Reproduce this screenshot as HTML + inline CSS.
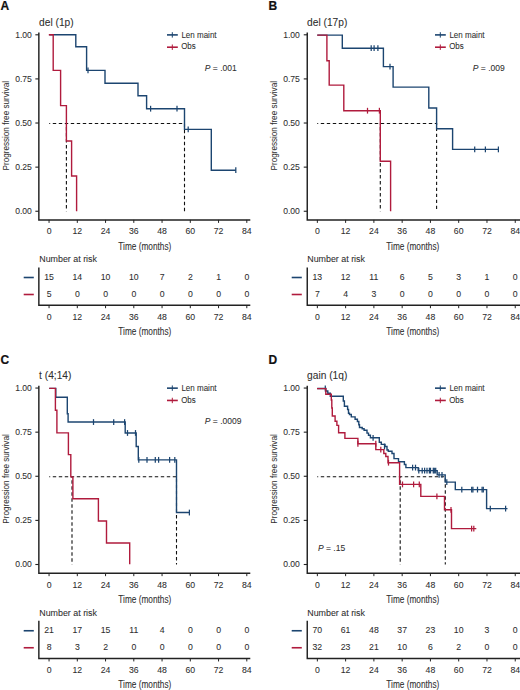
<!DOCTYPE html>
<html><head><meta charset="utf-8"><style>
html,body{margin:0;padding:0;background:#fff;overflow:hidden;width:520px;height:690px;}
svg{display:block;font-family:"Liberation Sans",sans-serif;}
text{stroke:#333;stroke-width:0.07px;}
</style></head><body>
<svg width="520" height="690" viewBox="0 0 520 690">
<rect width="520" height="690" fill="#fff"/>
<g transform="translate(0,0)"><text x="0.6" y="10.4" font-weight="bold" font-size="12" fill="#111" style="stroke:#111;stroke-width:0.2px">A</text><text x="39.1" y="25.5" font-size="10.2" fill="#2e2e2e">del (1p)</text><text transform="translate(9,170.5) rotate(-90)" font-size="9" fill="#2e2e2e" style="stroke-width:0.05px" textLength="89.5" lengthAdjust="spacingAndGlyphs">Progression free survival</text><path d="M38.85,32.6V219.9H250.3" fill="none" stroke="#222222" stroke-width="1.45"/><line x1="35.35" y1="34.80" x2="38.85" y2="34.80" stroke="#222222" stroke-width="1.1"/><text x="31.9" y="37.60" font-size="8.6" fill="#2e2e2e" text-anchor="end">1.00</text><line x1="35.35" y1="78.91" x2="38.85" y2="78.91" stroke="#222222" stroke-width="1.1"/><text x="31.9" y="81.71" font-size="8.6" fill="#2e2e2e" text-anchor="end">0.75</text><line x1="35.35" y1="123.02" x2="38.85" y2="123.02" stroke="#222222" stroke-width="1.1"/><text x="31.9" y="125.82" font-size="8.6" fill="#2e2e2e" text-anchor="end">0.50</text><line x1="35.35" y1="167.14" x2="38.85" y2="167.14" stroke="#222222" stroke-width="1.1"/><text x="31.9" y="169.94" font-size="8.6" fill="#2e2e2e" text-anchor="end">0.25</text><line x1="35.35" y1="211.25" x2="38.85" y2="211.25" stroke="#222222" stroke-width="1.1"/><text x="31.9" y="214.05" font-size="8.6" fill="#2e2e2e" text-anchor="end">0.00</text><line x1="49.05" y1="219.9" x2="49.05" y2="222.9" stroke="#222222" stroke-width="1"/><text x="49.05" y="234.4" font-size="8.7" fill="#2e2e2e" text-anchor="middle">0</text><line x1="77.30" y1="219.9" x2="77.30" y2="222.9" stroke="#222222" stroke-width="1"/><text x="77.30" y="234.4" font-size="8.7" fill="#2e2e2e" text-anchor="middle">12</text><line x1="105.55" y1="219.9" x2="105.55" y2="222.9" stroke="#222222" stroke-width="1"/><text x="105.55" y="234.4" font-size="8.7" fill="#2e2e2e" text-anchor="middle">24</text><line x1="133.80" y1="219.9" x2="133.80" y2="222.9" stroke="#222222" stroke-width="1"/><text x="133.80" y="234.4" font-size="8.7" fill="#2e2e2e" text-anchor="middle">36</text><line x1="162.05" y1="219.9" x2="162.05" y2="222.9" stroke="#222222" stroke-width="1"/><text x="162.05" y="234.4" font-size="8.7" fill="#2e2e2e" text-anchor="middle">48</text><line x1="190.30" y1="219.9" x2="190.30" y2="222.9" stroke="#222222" stroke-width="1"/><text x="190.30" y="234.4" font-size="8.7" fill="#2e2e2e" text-anchor="middle">60</text><line x1="218.55" y1="219.9" x2="218.55" y2="222.9" stroke="#222222" stroke-width="1"/><text x="218.55" y="234.4" font-size="8.7" fill="#2e2e2e" text-anchor="middle">72</text><line x1="246.80" y1="219.9" x2="246.80" y2="222.9" stroke="#222222" stroke-width="1"/><text x="246.80" y="234.4" font-size="8.7" fill="#2e2e2e" text-anchor="middle">84</text><text x="118.3" y="249.7" font-size="10" fill="#2e2e2e" textLength="53" lengthAdjust="spacingAndGlyphs">Time (months)</text><path d="M49.25,123.5H184.5V211.2" fill="none" stroke="#111" stroke-width="1.1" stroke-dasharray="3.4,2.6" stroke-dashoffset="2.45"/><path d="M66.4,123.5V211.2" fill="none" stroke="#111" stroke-width="1.1" stroke-dasharray="3.4,2.6" stroke-dashoffset="2.45"/><path d="M49.25,34.80H75.80V46.70H86.60V70.40H105.00V83.20H138.00V95.70H146.60V108.70H184.50V129.40H211.30V170.20H235.80" fill="none" stroke="#1c4570" stroke-width="1.4"/><line x1="88.00" y1="67.50" x2="88.00" y2="73.30" stroke="#1c4570" stroke-width="1.25"/><line x1="150.60" y1="105.80" x2="150.60" y2="111.60" stroke="#1c4570" stroke-width="1.25"/><line x1="177.00" y1="105.80" x2="177.00" y2="111.60" stroke="#1c4570" stroke-width="1.25"/><line x1="188.20" y1="126.50" x2="188.20" y2="132.30" stroke="#1c4570" stroke-width="1.25"/><line x1="235.80" y1="167.30" x2="235.80" y2="173.10" stroke="#1c4570" stroke-width="1.25"/><path d="M48.80,34.80H53.20V70.40H60.60V105.60H66.40V141.00H71.60V176.00H76.60V211.20" fill="none" stroke="#b01b3d" stroke-width="1.4"/><line x1="167" y1="34.9" x2="177.8" y2="34.9" stroke="#1c4570" stroke-width="1.6"/><line x1="172.3" y1="32.199999999999996" x2="172.3" y2="37.6" stroke="#1c4570" stroke-width="1"/><line x1="167" y1="47.2" x2="177.8" y2="47.2" stroke="#b01b3d" stroke-width="1.6"/><line x1="172.3" y1="44.5" x2="172.3" y2="49.900000000000006" stroke="#b01b3d" stroke-width="1"/><text x="181.4" y="37.5" font-size="8.4" fill="#2e2e2e" textLength="35.2" lengthAdjust="spacingAndGlyphs">Len maint</text><text x="181.2" y="49.4" font-size="8.4" fill="#2e2e2e" textLength="14.5" lengthAdjust="spacingAndGlyphs">Obs</text><text x="204.8" y="70.5" font-size="8.5" fill="#2e2e2e"><tspan font-style="italic">P</tspan> = .001</text><text x="39.25" y="262.3" font-size="8.9" fill="#2e2e2e">Number at risk</text><path d="M38.85,267.4V305.2H250.3" fill="none" stroke="#222222" stroke-width="1.45"/><line x1="23.7" y1="277.5" x2="33.8" y2="277.5" stroke="#1c4570" stroke-width="1.6"/><line x1="23.7" y1="294.5" x2="33.8" y2="294.5" stroke="#b01b3d" stroke-width="1.6"/><text x="49.05" y="279.9" font-size="8.7" fill="#2e2e2e" text-anchor="middle">15</text><text x="49.05" y="297.0" font-size="8.7" fill="#2e2e2e" text-anchor="middle">5</text><line x1="49.05" y1="305.2" x2="49.05" y2="308.2" stroke="#222222" stroke-width="1"/><text x="49.05" y="319.8" font-size="8.7" fill="#2e2e2e" text-anchor="middle">0</text><text x="77.30" y="279.9" font-size="8.7" fill="#2e2e2e" text-anchor="middle">14</text><text x="77.30" y="297.0" font-size="8.7" fill="#2e2e2e" text-anchor="middle">0</text><line x1="77.30" y1="305.2" x2="77.30" y2="308.2" stroke="#222222" stroke-width="1"/><text x="77.30" y="319.8" font-size="8.7" fill="#2e2e2e" text-anchor="middle">12</text><text x="105.55" y="279.9" font-size="8.7" fill="#2e2e2e" text-anchor="middle">10</text><text x="105.55" y="297.0" font-size="8.7" fill="#2e2e2e" text-anchor="middle">0</text><line x1="105.55" y1="305.2" x2="105.55" y2="308.2" stroke="#222222" stroke-width="1"/><text x="105.55" y="319.8" font-size="8.7" fill="#2e2e2e" text-anchor="middle">24</text><text x="133.80" y="279.9" font-size="8.7" fill="#2e2e2e" text-anchor="middle">10</text><text x="133.80" y="297.0" font-size="8.7" fill="#2e2e2e" text-anchor="middle">0</text><line x1="133.80" y1="305.2" x2="133.80" y2="308.2" stroke="#222222" stroke-width="1"/><text x="133.80" y="319.8" font-size="8.7" fill="#2e2e2e" text-anchor="middle">36</text><text x="162.05" y="279.9" font-size="8.7" fill="#2e2e2e" text-anchor="middle">7</text><text x="162.05" y="297.0" font-size="8.7" fill="#2e2e2e" text-anchor="middle">0</text><line x1="162.05" y1="305.2" x2="162.05" y2="308.2" stroke="#222222" stroke-width="1"/><text x="162.05" y="319.8" font-size="8.7" fill="#2e2e2e" text-anchor="middle">48</text><text x="190.30" y="279.9" font-size="8.7" fill="#2e2e2e" text-anchor="middle">2</text><text x="190.30" y="297.0" font-size="8.7" fill="#2e2e2e" text-anchor="middle">0</text><line x1="190.30" y1="305.2" x2="190.30" y2="308.2" stroke="#222222" stroke-width="1"/><text x="190.30" y="319.8" font-size="8.7" fill="#2e2e2e" text-anchor="middle">60</text><text x="218.55" y="279.9" font-size="8.7" fill="#2e2e2e" text-anchor="middle">1</text><text x="218.55" y="297.0" font-size="8.7" fill="#2e2e2e" text-anchor="middle">0</text><line x1="218.55" y1="305.2" x2="218.55" y2="308.2" stroke="#222222" stroke-width="1"/><text x="218.55" y="319.8" font-size="8.7" fill="#2e2e2e" text-anchor="middle">72</text><text x="246.80" y="279.9" font-size="8.7" fill="#2e2e2e" text-anchor="middle">0</text><text x="246.80" y="297.0" font-size="8.7" fill="#2e2e2e" text-anchor="middle">0</text><line x1="246.80" y1="305.2" x2="246.80" y2="308.2" stroke="#222222" stroke-width="1"/><text x="246.80" y="319.8" font-size="8.7" fill="#2e2e2e" text-anchor="middle">84</text><text x="118.3" y="334.6" font-size="10" fill="#2e2e2e" textLength="53" lengthAdjust="spacingAndGlyphs">Time (months)</text></g><g transform="translate(268,0)"><text x="0.6" y="10.4" font-weight="bold" font-size="12" fill="#111" style="stroke:#111;stroke-width:0.2px">B</text><text x="39.1" y="25.5" font-size="10.2" fill="#2e2e2e">del (17p)</text><text transform="translate(9,170.5) rotate(-90)" font-size="9" fill="#2e2e2e" style="stroke-width:0.05px" textLength="89.5" lengthAdjust="spacingAndGlyphs">Progression free survival</text><path d="M39.25,32.6V219.9H252.5" fill="none" stroke="#222222" stroke-width="1.45"/><line x1="35.75" y1="34.80" x2="39.25" y2="34.80" stroke="#222222" stroke-width="1.1"/><text x="31.9" y="37.60" font-size="8.6" fill="#2e2e2e" text-anchor="end">1.00</text><line x1="35.75" y1="78.91" x2="39.25" y2="78.91" stroke="#222222" stroke-width="1.1"/><text x="31.9" y="81.71" font-size="8.6" fill="#2e2e2e" text-anchor="end">0.75</text><line x1="35.75" y1="123.02" x2="39.25" y2="123.02" stroke="#222222" stroke-width="1.1"/><text x="31.9" y="125.82" font-size="8.6" fill="#2e2e2e" text-anchor="end">0.50</text><line x1="35.75" y1="167.14" x2="39.25" y2="167.14" stroke="#222222" stroke-width="1.1"/><text x="31.9" y="169.94" font-size="8.6" fill="#2e2e2e" text-anchor="end">0.25</text><line x1="35.75" y1="211.25" x2="39.25" y2="211.25" stroke="#222222" stroke-width="1.1"/><text x="31.9" y="214.05" font-size="8.6" fill="#2e2e2e" text-anchor="end">0.00</text><line x1="49.35" y1="219.9" x2="49.35" y2="222.9" stroke="#222222" stroke-width="1"/><text x="49.35" y="234.4" font-size="8.7" fill="#2e2e2e" text-anchor="middle">0</text><line x1="77.62" y1="219.9" x2="77.62" y2="222.9" stroke="#222222" stroke-width="1"/><text x="77.62" y="234.4" font-size="8.7" fill="#2e2e2e" text-anchor="middle">12</text><line x1="105.89" y1="219.9" x2="105.89" y2="222.9" stroke="#222222" stroke-width="1"/><text x="105.89" y="234.4" font-size="8.7" fill="#2e2e2e" text-anchor="middle">24</text><line x1="134.16" y1="219.9" x2="134.16" y2="222.9" stroke="#222222" stroke-width="1"/><text x="134.16" y="234.4" font-size="8.7" fill="#2e2e2e" text-anchor="middle">36</text><line x1="162.43" y1="219.9" x2="162.43" y2="222.9" stroke="#222222" stroke-width="1"/><text x="162.43" y="234.4" font-size="8.7" fill="#2e2e2e" text-anchor="middle">48</text><line x1="190.70" y1="219.9" x2="190.70" y2="222.9" stroke="#222222" stroke-width="1"/><text x="190.70" y="234.4" font-size="8.7" fill="#2e2e2e" text-anchor="middle">60</text><line x1="218.97" y1="219.9" x2="218.97" y2="222.9" stroke="#222222" stroke-width="1"/><text x="218.97" y="234.4" font-size="8.7" fill="#2e2e2e" text-anchor="middle">72</text><line x1="247.24" y1="219.9" x2="247.24" y2="222.9" stroke="#222222" stroke-width="1"/><text x="247.24" y="234.4" font-size="8.7" fill="#2e2e2e" text-anchor="middle">84</text><text x="118.3" y="249.7" font-size="10" fill="#2e2e2e" textLength="53" lengthAdjust="spacingAndGlyphs">Time (months)</text><path d="M49.25,123.5H168.6V211.2" fill="none" stroke="#111" stroke-width="1.1" stroke-dasharray="3.4,2.6" stroke-dashoffset="2.45"/><path d="M112.3,123.5V211.2" fill="none" stroke="#111" stroke-width="1.1" stroke-dasharray="3.4,2.6" stroke-dashoffset="2.45"/><path d="M49.25,35.10H74.30V48.20H115.40V66.60H125.10V87.10H160.80V108.00H168.60V128.80H184.60V149.40H231.00" fill="none" stroke="#1c4570" stroke-width="1.4"/><line x1="103.20" y1="45.30" x2="103.20" y2="51.10" stroke="#1c4570" stroke-width="1.25"/><line x1="106.10" y1="45.30" x2="106.10" y2="51.10" stroke="#1c4570" stroke-width="1.25"/><line x1="109.90" y1="45.30" x2="109.90" y2="51.10" stroke="#1c4570" stroke-width="1.25"/><line x1="122.00" y1="63.70" x2="122.00" y2="69.50" stroke="#1c4570" stroke-width="1.25"/><line x1="206.70" y1="146.50" x2="206.70" y2="152.30" stroke="#1c4570" stroke-width="1.25"/><line x1="217.40" y1="146.50" x2="217.40" y2="152.30" stroke="#1c4570" stroke-width="1.25"/><line x1="230.40" y1="146.50" x2="230.40" y2="152.30" stroke="#1c4570" stroke-width="1.25"/><path d="M49.25,35.10H58.90V60.70H61.20V85.10H75.80V110.70H112.30V161.20H122.60V211.20" fill="none" stroke="#b01b3d" stroke-width="1.4"/><line x1="99.50" y1="107.80" x2="99.50" y2="113.60" stroke="#b01b3d" stroke-width="1.25"/><line x1="111.40" y1="107.80" x2="111.40" y2="113.60" stroke="#b01b3d" stroke-width="1.25"/><line x1="167" y1="34.9" x2="177.8" y2="34.9" stroke="#1c4570" stroke-width="1.6"/><line x1="172.3" y1="32.199999999999996" x2="172.3" y2="37.6" stroke="#1c4570" stroke-width="1"/><line x1="167" y1="47.2" x2="177.8" y2="47.2" stroke="#b01b3d" stroke-width="1.6"/><line x1="172.3" y1="44.5" x2="172.3" y2="49.900000000000006" stroke="#b01b3d" stroke-width="1"/><text x="181.4" y="37.5" font-size="8.4" fill="#2e2e2e" textLength="35.2" lengthAdjust="spacingAndGlyphs">Len maint</text><text x="181.2" y="49.4" font-size="8.4" fill="#2e2e2e" textLength="14.5" lengthAdjust="spacingAndGlyphs">Obs</text><text x="204.8" y="70.5" font-size="8.5" fill="#2e2e2e"><tspan font-style="italic">P</tspan> = .009</text><text x="39.25" y="262.3" font-size="8.9" fill="#2e2e2e">Number at risk</text><path d="M39.25,267.4V305.2H252.5" fill="none" stroke="#222222" stroke-width="1.45"/><line x1="23.7" y1="277.5" x2="33.8" y2="277.5" stroke="#1c4570" stroke-width="1.6"/><line x1="23.7" y1="294.5" x2="33.8" y2="294.5" stroke="#b01b3d" stroke-width="1.6"/><text x="49.35" y="279.9" font-size="8.7" fill="#2e2e2e" text-anchor="middle">13</text><text x="49.35" y="297.0" font-size="8.7" fill="#2e2e2e" text-anchor="middle">7</text><line x1="49.35" y1="305.2" x2="49.35" y2="308.2" stroke="#222222" stroke-width="1"/><text x="49.35" y="319.8" font-size="8.7" fill="#2e2e2e" text-anchor="middle">0</text><text x="77.62" y="279.9" font-size="8.7" fill="#2e2e2e" text-anchor="middle">12</text><text x="77.62" y="297.0" font-size="8.7" fill="#2e2e2e" text-anchor="middle">4</text><line x1="77.62" y1="305.2" x2="77.62" y2="308.2" stroke="#222222" stroke-width="1"/><text x="77.62" y="319.8" font-size="8.7" fill="#2e2e2e" text-anchor="middle">12</text><text x="105.89" y="279.9" font-size="8.7" fill="#2e2e2e" text-anchor="middle">11</text><text x="105.89" y="297.0" font-size="8.7" fill="#2e2e2e" text-anchor="middle">3</text><line x1="105.89" y1="305.2" x2="105.89" y2="308.2" stroke="#222222" stroke-width="1"/><text x="105.89" y="319.8" font-size="8.7" fill="#2e2e2e" text-anchor="middle">24</text><text x="134.16" y="279.9" font-size="8.7" fill="#2e2e2e" text-anchor="middle">6</text><text x="134.16" y="297.0" font-size="8.7" fill="#2e2e2e" text-anchor="middle">0</text><line x1="134.16" y1="305.2" x2="134.16" y2="308.2" stroke="#222222" stroke-width="1"/><text x="134.16" y="319.8" font-size="8.7" fill="#2e2e2e" text-anchor="middle">36</text><text x="162.43" y="279.9" font-size="8.7" fill="#2e2e2e" text-anchor="middle">5</text><text x="162.43" y="297.0" font-size="8.7" fill="#2e2e2e" text-anchor="middle">0</text><line x1="162.43" y1="305.2" x2="162.43" y2="308.2" stroke="#222222" stroke-width="1"/><text x="162.43" y="319.8" font-size="8.7" fill="#2e2e2e" text-anchor="middle">48</text><text x="190.70" y="279.9" font-size="8.7" fill="#2e2e2e" text-anchor="middle">3</text><text x="190.70" y="297.0" font-size="8.7" fill="#2e2e2e" text-anchor="middle">0</text><line x1="190.70" y1="305.2" x2="190.70" y2="308.2" stroke="#222222" stroke-width="1"/><text x="190.70" y="319.8" font-size="8.7" fill="#2e2e2e" text-anchor="middle">60</text><text x="218.97" y="279.9" font-size="8.7" fill="#2e2e2e" text-anchor="middle">1</text><text x="218.97" y="297.0" font-size="8.7" fill="#2e2e2e" text-anchor="middle">0</text><line x1="218.97" y1="305.2" x2="218.97" y2="308.2" stroke="#222222" stroke-width="1"/><text x="218.97" y="319.8" font-size="8.7" fill="#2e2e2e" text-anchor="middle">72</text><text x="247.24" y="279.9" font-size="8.7" fill="#2e2e2e" text-anchor="middle">0</text><text x="247.24" y="297.0" font-size="8.7" fill="#2e2e2e" text-anchor="middle">0</text><line x1="247.24" y1="305.2" x2="247.24" y2="308.2" stroke="#222222" stroke-width="1"/><text x="247.24" y="319.8" font-size="8.7" fill="#2e2e2e" text-anchor="middle">84</text><text x="118.3" y="334.6" font-size="10" fill="#2e2e2e" textLength="53" lengthAdjust="spacingAndGlyphs">Time (months)</text></g><g transform="translate(0,353.25)"><text x="0.6" y="10.4" font-weight="bold" font-size="12" fill="#111" style="stroke:#111;stroke-width:0.2px">C</text><text x="39.1" y="25.5" font-size="10.2" fill="#2e2e2e">t (4;14)</text><text transform="translate(9,170.5) rotate(-90)" font-size="9" fill="#2e2e2e" style="stroke-width:0.05px" textLength="89.5" lengthAdjust="spacingAndGlyphs">Progression free survival</text><path d="M38.85,32.6V219.9H250.3" fill="none" stroke="#222222" stroke-width="1.45"/><line x1="35.35" y1="34.80" x2="38.85" y2="34.80" stroke="#222222" stroke-width="1.1"/><text x="31.9" y="37.60" font-size="8.6" fill="#2e2e2e" text-anchor="end">1.00</text><line x1="35.35" y1="78.91" x2="38.85" y2="78.91" stroke="#222222" stroke-width="1.1"/><text x="31.9" y="81.71" font-size="8.6" fill="#2e2e2e" text-anchor="end">0.75</text><line x1="35.35" y1="123.02" x2="38.85" y2="123.02" stroke="#222222" stroke-width="1.1"/><text x="31.9" y="125.82" font-size="8.6" fill="#2e2e2e" text-anchor="end">0.50</text><line x1="35.35" y1="167.14" x2="38.85" y2="167.14" stroke="#222222" stroke-width="1.1"/><text x="31.9" y="169.94" font-size="8.6" fill="#2e2e2e" text-anchor="end">0.25</text><line x1="35.35" y1="211.25" x2="38.85" y2="211.25" stroke="#222222" stroke-width="1.1"/><text x="31.9" y="214.05" font-size="8.6" fill="#2e2e2e" text-anchor="end">0.00</text><line x1="49.05" y1="219.9" x2="49.05" y2="222.9" stroke="#222222" stroke-width="1"/><text x="49.05" y="234.4" font-size="8.7" fill="#2e2e2e" text-anchor="middle">0</text><line x1="77.30" y1="219.9" x2="77.30" y2="222.9" stroke="#222222" stroke-width="1"/><text x="77.30" y="234.4" font-size="8.7" fill="#2e2e2e" text-anchor="middle">12</text><line x1="105.55" y1="219.9" x2="105.55" y2="222.9" stroke="#222222" stroke-width="1"/><text x="105.55" y="234.4" font-size="8.7" fill="#2e2e2e" text-anchor="middle">24</text><line x1="133.80" y1="219.9" x2="133.80" y2="222.9" stroke="#222222" stroke-width="1"/><text x="133.80" y="234.4" font-size="8.7" fill="#2e2e2e" text-anchor="middle">36</text><line x1="162.05" y1="219.9" x2="162.05" y2="222.9" stroke="#222222" stroke-width="1"/><text x="162.05" y="234.4" font-size="8.7" fill="#2e2e2e" text-anchor="middle">48</text><line x1="190.30" y1="219.9" x2="190.30" y2="222.9" stroke="#222222" stroke-width="1"/><text x="190.30" y="234.4" font-size="8.7" fill="#2e2e2e" text-anchor="middle">60</text><line x1="218.55" y1="219.9" x2="218.55" y2="222.9" stroke="#222222" stroke-width="1"/><text x="218.55" y="234.4" font-size="8.7" fill="#2e2e2e" text-anchor="middle">72</text><line x1="246.80" y1="219.9" x2="246.80" y2="222.9" stroke="#222222" stroke-width="1"/><text x="246.80" y="234.4" font-size="8.7" fill="#2e2e2e" text-anchor="middle">84</text><text x="118.3" y="249.7" font-size="10" fill="#2e2e2e" textLength="53" lengthAdjust="spacingAndGlyphs">Time (months)</text><path d="M49.25,123.5H176.5V211.2" fill="none" stroke="#111" stroke-width="1.1" stroke-dasharray="3.4,2.6" stroke-dashoffset="2.45"/><path d="M72,123.5V211.2" fill="none" stroke="#111" stroke-width="1.1" stroke-dasharray="3.4,2.6" stroke-dashoffset="2.45"/><path d="M49.25,35.10H55.80V44.00H67.30V60.50H68.10V68.80H125.20V79.70H136.20V93.20H138.30V106.60H176.50V159.30H189.60" fill="none" stroke="#1c4570" stroke-width="1.4"/><line x1="93.50" y1="65.90" x2="93.50" y2="71.70" stroke="#1c4570" stroke-width="1.25"/><line x1="113.70" y1="65.90" x2="113.70" y2="71.70" stroke="#1c4570" stroke-width="1.25"/><line x1="124.60" y1="65.90" x2="124.60" y2="71.70" stroke="#1c4570" stroke-width="1.25"/><line x1="127.50" y1="76.80" x2="127.50" y2="82.60" stroke="#1c4570" stroke-width="1.25"/><line x1="135.50" y1="76.80" x2="135.50" y2="82.60" stroke="#1c4570" stroke-width="1.25"/><line x1="138.80" y1="103.70" x2="138.80" y2="109.50" stroke="#1c4570" stroke-width="1.25"/><line x1="147.00" y1="103.70" x2="147.00" y2="109.50" stroke="#1c4570" stroke-width="1.25"/><line x1="155.30" y1="103.70" x2="155.30" y2="109.50" stroke="#1c4570" stroke-width="1.25"/><line x1="158.60" y1="103.70" x2="158.60" y2="109.50" stroke="#1c4570" stroke-width="1.25"/><line x1="169.60" y1="103.70" x2="169.60" y2="109.50" stroke="#1c4570" stroke-width="1.25"/><line x1="174.80" y1="103.70" x2="174.80" y2="109.50" stroke="#1c4570" stroke-width="1.25"/><line x1="189.40" y1="156.40" x2="189.40" y2="162.20" stroke="#1c4570" stroke-width="1.25"/><path d="M49.25,35.10H55.40V57.00H56.90V79.60H68.40V101.40H70.80V123.60H72.90V145.50H98.40V167.80H106.50V189.70H129.70V210.90" fill="none" stroke="#b01b3d" stroke-width="1.4"/><line x1="167" y1="34.9" x2="177.8" y2="34.9" stroke="#1c4570" stroke-width="1.6"/><line x1="172.3" y1="32.199999999999996" x2="172.3" y2="37.6" stroke="#1c4570" stroke-width="1"/><line x1="167" y1="47.2" x2="177.8" y2="47.2" stroke="#b01b3d" stroke-width="1.6"/><line x1="172.3" y1="44.5" x2="172.3" y2="49.900000000000006" stroke="#b01b3d" stroke-width="1"/><text x="181.4" y="37.5" font-size="8.4" fill="#2e2e2e" textLength="35.2" lengthAdjust="spacingAndGlyphs">Len maint</text><text x="181.2" y="49.4" font-size="8.4" fill="#2e2e2e" textLength="14.5" lengthAdjust="spacingAndGlyphs">Obs</text><text x="204.8" y="70.5" font-size="8.5" fill="#2e2e2e"><tspan font-style="italic">P</tspan> = .0009</text><text x="39.25" y="262.3" font-size="8.9" fill="#2e2e2e">Number at risk</text><path d="M38.85,267.4V305.2H250.3" fill="none" stroke="#222222" stroke-width="1.45"/><line x1="23.7" y1="277.5" x2="33.8" y2="277.5" stroke="#1c4570" stroke-width="1.6"/><line x1="23.7" y1="294.5" x2="33.8" y2="294.5" stroke="#b01b3d" stroke-width="1.6"/><text x="49.05" y="279.9" font-size="8.7" fill="#2e2e2e" text-anchor="middle">21</text><text x="49.05" y="297.0" font-size="8.7" fill="#2e2e2e" text-anchor="middle">8</text><line x1="49.05" y1="305.2" x2="49.05" y2="308.2" stroke="#222222" stroke-width="1"/><text x="49.05" y="319.8" font-size="8.7" fill="#2e2e2e" text-anchor="middle">0</text><text x="77.30" y="279.9" font-size="8.7" fill="#2e2e2e" text-anchor="middle">17</text><text x="77.30" y="297.0" font-size="8.7" fill="#2e2e2e" text-anchor="middle">3</text><line x1="77.30" y1="305.2" x2="77.30" y2="308.2" stroke="#222222" stroke-width="1"/><text x="77.30" y="319.8" font-size="8.7" fill="#2e2e2e" text-anchor="middle">12</text><text x="105.55" y="279.9" font-size="8.7" fill="#2e2e2e" text-anchor="middle">15</text><text x="105.55" y="297.0" font-size="8.7" fill="#2e2e2e" text-anchor="middle">2</text><line x1="105.55" y1="305.2" x2="105.55" y2="308.2" stroke="#222222" stroke-width="1"/><text x="105.55" y="319.8" font-size="8.7" fill="#2e2e2e" text-anchor="middle">24</text><text x="133.80" y="279.9" font-size="8.7" fill="#2e2e2e" text-anchor="middle">11</text><text x="133.80" y="297.0" font-size="8.7" fill="#2e2e2e" text-anchor="middle">0</text><line x1="133.80" y1="305.2" x2="133.80" y2="308.2" stroke="#222222" stroke-width="1"/><text x="133.80" y="319.8" font-size="8.7" fill="#2e2e2e" text-anchor="middle">36</text><text x="162.05" y="279.9" font-size="8.7" fill="#2e2e2e" text-anchor="middle">4</text><text x="162.05" y="297.0" font-size="8.7" fill="#2e2e2e" text-anchor="middle">0</text><line x1="162.05" y1="305.2" x2="162.05" y2="308.2" stroke="#222222" stroke-width="1"/><text x="162.05" y="319.8" font-size="8.7" fill="#2e2e2e" text-anchor="middle">48</text><text x="190.30" y="279.9" font-size="8.7" fill="#2e2e2e" text-anchor="middle">0</text><text x="190.30" y="297.0" font-size="8.7" fill="#2e2e2e" text-anchor="middle">0</text><line x1="190.30" y1="305.2" x2="190.30" y2="308.2" stroke="#222222" stroke-width="1"/><text x="190.30" y="319.8" font-size="8.7" fill="#2e2e2e" text-anchor="middle">60</text><text x="218.55" y="279.9" font-size="8.7" fill="#2e2e2e" text-anchor="middle">0</text><text x="218.55" y="297.0" font-size="8.7" fill="#2e2e2e" text-anchor="middle">0</text><line x1="218.55" y1="305.2" x2="218.55" y2="308.2" stroke="#222222" stroke-width="1"/><text x="218.55" y="319.8" font-size="8.7" fill="#2e2e2e" text-anchor="middle">72</text><text x="246.80" y="279.9" font-size="8.7" fill="#2e2e2e" text-anchor="middle">0</text><text x="246.80" y="297.0" font-size="8.7" fill="#2e2e2e" text-anchor="middle">0</text><line x1="246.80" y1="305.2" x2="246.80" y2="308.2" stroke="#222222" stroke-width="1"/><text x="246.80" y="319.8" font-size="8.7" fill="#2e2e2e" text-anchor="middle">84</text><text x="118.3" y="334.6" font-size="10" fill="#2e2e2e" textLength="53" lengthAdjust="spacingAndGlyphs">Time (months)</text></g><g transform="translate(268,353.25)"><text x="0.6" y="10.4" font-weight="bold" font-size="12" fill="#111" style="stroke:#111;stroke-width:0.2px">D</text><text x="39.1" y="25.5" font-size="10.2" fill="#2e2e2e">gain (1q)</text><text transform="translate(9,170.5) rotate(-90)" font-size="9" fill="#2e2e2e" style="stroke-width:0.05px" textLength="89.5" lengthAdjust="spacingAndGlyphs">Progression free survival</text><path d="M39.25,32.6V219.9H252.5" fill="none" stroke="#222222" stroke-width="1.45"/><line x1="35.75" y1="34.80" x2="39.25" y2="34.80" stroke="#222222" stroke-width="1.1"/><text x="31.9" y="37.60" font-size="8.6" fill="#2e2e2e" text-anchor="end">1.00</text><line x1="35.75" y1="78.91" x2="39.25" y2="78.91" stroke="#222222" stroke-width="1.1"/><text x="31.9" y="81.71" font-size="8.6" fill="#2e2e2e" text-anchor="end">0.75</text><line x1="35.75" y1="123.02" x2="39.25" y2="123.02" stroke="#222222" stroke-width="1.1"/><text x="31.9" y="125.82" font-size="8.6" fill="#2e2e2e" text-anchor="end">0.50</text><line x1="35.75" y1="167.14" x2="39.25" y2="167.14" stroke="#222222" stroke-width="1.1"/><text x="31.9" y="169.94" font-size="8.6" fill="#2e2e2e" text-anchor="end">0.25</text><line x1="35.75" y1="211.25" x2="39.25" y2="211.25" stroke="#222222" stroke-width="1.1"/><text x="31.9" y="214.05" font-size="8.6" fill="#2e2e2e" text-anchor="end">0.00</text><line x1="49.35" y1="219.9" x2="49.35" y2="222.9" stroke="#222222" stroke-width="1"/><text x="49.35" y="234.4" font-size="8.7" fill="#2e2e2e" text-anchor="middle">0</text><line x1="77.62" y1="219.9" x2="77.62" y2="222.9" stroke="#222222" stroke-width="1"/><text x="77.62" y="234.4" font-size="8.7" fill="#2e2e2e" text-anchor="middle">12</text><line x1="105.89" y1="219.9" x2="105.89" y2="222.9" stroke="#222222" stroke-width="1"/><text x="105.89" y="234.4" font-size="8.7" fill="#2e2e2e" text-anchor="middle">24</text><line x1="134.16" y1="219.9" x2="134.16" y2="222.9" stroke="#222222" stroke-width="1"/><text x="134.16" y="234.4" font-size="8.7" fill="#2e2e2e" text-anchor="middle">36</text><line x1="162.43" y1="219.9" x2="162.43" y2="222.9" stroke="#222222" stroke-width="1"/><text x="162.43" y="234.4" font-size="8.7" fill="#2e2e2e" text-anchor="middle">48</text><line x1="190.70" y1="219.9" x2="190.70" y2="222.9" stroke="#222222" stroke-width="1"/><text x="190.70" y="234.4" font-size="8.7" fill="#2e2e2e" text-anchor="middle">60</text><line x1="218.97" y1="219.9" x2="218.97" y2="222.9" stroke="#222222" stroke-width="1"/><text x="218.97" y="234.4" font-size="8.7" fill="#2e2e2e" text-anchor="middle">72</text><line x1="247.24" y1="219.9" x2="247.24" y2="222.9" stroke="#222222" stroke-width="1"/><text x="247.24" y="234.4" font-size="8.7" fill="#2e2e2e" text-anchor="middle">84</text><text x="118.3" y="249.7" font-size="10" fill="#2e2e2e" textLength="53" lengthAdjust="spacingAndGlyphs">Time (months)</text><path d="M49.25,123.5H177.3V211.3" fill="none" stroke="#111" stroke-width="1.1" stroke-dasharray="3.4,2.6" stroke-dashoffset="2.45"/><path d="M132.2,123.5V211.3" fill="none" stroke="#111" stroke-width="1.1" stroke-dasharray="3.4,2.6" stroke-dashoffset="2.45"/><path d="M49.25,35.25H57.80V37.75H59.80V40.05H62.30V43.05H75.30V47.75H76.40V53.05H79.60V56.25H80.50V59.95H81.50V61.25H83.30V63.65H87.10V66.05H89.40V68.25H90.80V71.45H91.50V74.25H94.20V75.55H96.10V76.95H99.00V79.85H100.50V81.95H102.40V84.55H111.30V88.95H113.30V91.15H117.00V93.25H119.00V96.75H120.30V98.05H124.00V100.25H126.00V105.35H130.50V108.55H136.40V111.25H137.90V114.35H150.20V117.35H169.20V121.65H177.20V128.85H187.30V136.35H218.60V155.35H239.50" fill="none" stroke="#1c4570" stroke-width="1.4"/><line x1="57.30" y1="32.35" x2="57.30" y2="38.15" stroke="#1c4570" stroke-width="1.25"/><line x1="105.10" y1="81.65" x2="105.10" y2="87.45" stroke="#1c4570" stroke-width="1.25"/><line x1="116.50" y1="90.35" x2="116.50" y2="96.15" stroke="#1c4570" stroke-width="1.25"/><line x1="144.60" y1="111.45" x2="144.60" y2="117.25" stroke="#1c4570" stroke-width="1.25"/><line x1="147.50" y1="111.45" x2="147.50" y2="117.25" stroke="#1c4570" stroke-width="1.25"/><line x1="150.80" y1="114.45" x2="150.80" y2="120.25" stroke="#1c4570" stroke-width="1.25"/><line x1="154.20" y1="114.45" x2="154.20" y2="120.25" stroke="#1c4570" stroke-width="1.25"/><line x1="156.60" y1="114.45" x2="156.60" y2="120.25" stroke="#1c4570" stroke-width="1.25"/><line x1="159.00" y1="114.45" x2="159.00" y2="120.25" stroke="#1c4570" stroke-width="1.25"/><line x1="161.40" y1="114.45" x2="161.40" y2="120.25" stroke="#1c4570" stroke-width="1.25"/><line x1="162.50" y1="114.45" x2="162.50" y2="120.25" stroke="#1c4570" stroke-width="1.25"/><line x1="165.30" y1="114.45" x2="165.30" y2="120.25" stroke="#1c4570" stroke-width="1.25"/><line x1="166.30" y1="114.45" x2="166.30" y2="120.25" stroke="#1c4570" stroke-width="1.25"/><line x1="167.70" y1="114.45" x2="167.70" y2="120.25" stroke="#1c4570" stroke-width="1.25"/><line x1="171.10" y1="118.75" x2="171.10" y2="124.55" stroke="#1c4570" stroke-width="1.25"/><line x1="174.00" y1="118.75" x2="174.00" y2="124.55" stroke="#1c4570" stroke-width="1.25"/><line x1="178.80" y1="125.95" x2="178.80" y2="131.75" stroke="#1c4570" stroke-width="1.25"/><line x1="193.80" y1="133.45" x2="193.80" y2="139.25" stroke="#1c4570" stroke-width="1.25"/><line x1="203.70" y1="133.45" x2="203.70" y2="139.25" stroke="#1c4570" stroke-width="1.25"/><line x1="204.90" y1="133.45" x2="204.90" y2="139.25" stroke="#1c4570" stroke-width="1.25"/><line x1="209.50" y1="133.45" x2="209.50" y2="139.25" stroke="#1c4570" stroke-width="1.25"/><line x1="214.10" y1="133.45" x2="214.10" y2="139.25" stroke="#1c4570" stroke-width="1.25"/><line x1="215.30" y1="133.45" x2="215.30" y2="139.25" stroke="#1c4570" stroke-width="1.25"/><line x1="222.30" y1="152.45" x2="222.30" y2="158.25" stroke="#1c4570" stroke-width="1.25"/><line x1="237.60" y1="152.45" x2="237.60" y2="158.25" stroke="#1c4570" stroke-width="1.25"/><path d="M49.00,35.35H57.80V41.05H63.30V46.75H63.80V54.75H64.30V62.75H67.10V68.05H68.90V72.15H70.60V79.45H76.90V85.15H89.90V90.50H107.80V96.35H115.80V100.25H117.80V103.25H120.00V109.45H131.60V131.15H152.80V143.15H176.50V156.55H183.50V175.35H208.30" fill="none" stroke="#b01b3d" stroke-width="1.4"/><line x1="89.90" y1="87.60" x2="89.90" y2="93.40" stroke="#b01b3d" stroke-width="1.25"/><line x1="107.80" y1="87.60" x2="107.80" y2="93.40" stroke="#b01b3d" stroke-width="1.25"/><line x1="112.80" y1="93.45" x2="112.80" y2="99.25" stroke="#b01b3d" stroke-width="1.25"/><line x1="120.50" y1="106.55" x2="120.50" y2="112.35" stroke="#b01b3d" stroke-width="1.25"/><line x1="134.50" y1="128.25" x2="134.50" y2="134.05" stroke="#b01b3d" stroke-width="1.25"/><line x1="145.60" y1="128.25" x2="145.60" y2="134.05" stroke="#b01b3d" stroke-width="1.25"/><line x1="151.30" y1="128.25" x2="151.30" y2="134.05" stroke="#b01b3d" stroke-width="1.25"/><line x1="168.90" y1="140.25" x2="168.90" y2="146.05" stroke="#b01b3d" stroke-width="1.25"/><line x1="183.00" y1="153.65" x2="183.00" y2="159.45" stroke="#b01b3d" stroke-width="1.25"/><line x1="203.60" y1="172.45" x2="203.60" y2="178.25" stroke="#b01b3d" stroke-width="1.25"/><line x1="205.80" y1="172.45" x2="205.80" y2="178.25" stroke="#b01b3d" stroke-width="1.25"/><line x1="167" y1="34.9" x2="177.8" y2="34.9" stroke="#1c4570" stroke-width="1.6"/><line x1="172.3" y1="32.199999999999996" x2="172.3" y2="37.6" stroke="#1c4570" stroke-width="1"/><line x1="167" y1="47.2" x2="177.8" y2="47.2" stroke="#b01b3d" stroke-width="1.6"/><line x1="172.3" y1="44.5" x2="172.3" y2="49.900000000000006" stroke="#b01b3d" stroke-width="1"/><text x="181.4" y="37.5" font-size="8.4" fill="#2e2e2e" textLength="35.2" lengthAdjust="spacingAndGlyphs">Len maint</text><text x="181.2" y="49.4" font-size="8.4" fill="#2e2e2e" textLength="14.5" lengthAdjust="spacingAndGlyphs">Obs</text><text x="50" y="197.25" font-size="8.5" fill="#2e2e2e"><tspan font-style="italic">P</tspan> = .15</text><text x="39.25" y="262.3" font-size="8.9" fill="#2e2e2e">Number at risk</text><path d="M39.25,267.4V305.2H252.5" fill="none" stroke="#222222" stroke-width="1.45"/><line x1="23.7" y1="277.5" x2="33.8" y2="277.5" stroke="#1c4570" stroke-width="1.6"/><line x1="23.7" y1="294.5" x2="33.8" y2="294.5" stroke="#b01b3d" stroke-width="1.6"/><text x="49.35" y="279.9" font-size="8.7" fill="#2e2e2e" text-anchor="middle">70</text><text x="49.35" y="297.0" font-size="8.7" fill="#2e2e2e" text-anchor="middle">32</text><line x1="49.35" y1="305.2" x2="49.35" y2="308.2" stroke="#222222" stroke-width="1"/><text x="49.35" y="319.8" font-size="8.7" fill="#2e2e2e" text-anchor="middle">0</text><text x="77.62" y="279.9" font-size="8.7" fill="#2e2e2e" text-anchor="middle">61</text><text x="77.62" y="297.0" font-size="8.7" fill="#2e2e2e" text-anchor="middle">23</text><line x1="77.62" y1="305.2" x2="77.62" y2="308.2" stroke="#222222" stroke-width="1"/><text x="77.62" y="319.8" font-size="8.7" fill="#2e2e2e" text-anchor="middle">12</text><text x="105.89" y="279.9" font-size="8.7" fill="#2e2e2e" text-anchor="middle">48</text><text x="105.89" y="297.0" font-size="8.7" fill="#2e2e2e" text-anchor="middle">21</text><line x1="105.89" y1="305.2" x2="105.89" y2="308.2" stroke="#222222" stroke-width="1"/><text x="105.89" y="319.8" font-size="8.7" fill="#2e2e2e" text-anchor="middle">24</text><text x="134.16" y="279.9" font-size="8.7" fill="#2e2e2e" text-anchor="middle">37</text><text x="134.16" y="297.0" font-size="8.7" fill="#2e2e2e" text-anchor="middle">10</text><line x1="134.16" y1="305.2" x2="134.16" y2="308.2" stroke="#222222" stroke-width="1"/><text x="134.16" y="319.8" font-size="8.7" fill="#2e2e2e" text-anchor="middle">36</text><text x="162.43" y="279.9" font-size="8.7" fill="#2e2e2e" text-anchor="middle">23</text><text x="162.43" y="297.0" font-size="8.7" fill="#2e2e2e" text-anchor="middle">6</text><line x1="162.43" y1="305.2" x2="162.43" y2="308.2" stroke="#222222" stroke-width="1"/><text x="162.43" y="319.8" font-size="8.7" fill="#2e2e2e" text-anchor="middle">48</text><text x="190.70" y="279.9" font-size="8.7" fill="#2e2e2e" text-anchor="middle">10</text><text x="190.70" y="297.0" font-size="8.7" fill="#2e2e2e" text-anchor="middle">2</text><line x1="190.70" y1="305.2" x2="190.70" y2="308.2" stroke="#222222" stroke-width="1"/><text x="190.70" y="319.8" font-size="8.7" fill="#2e2e2e" text-anchor="middle">60</text><text x="218.97" y="279.9" font-size="8.7" fill="#2e2e2e" text-anchor="middle">3</text><text x="218.97" y="297.0" font-size="8.7" fill="#2e2e2e" text-anchor="middle">0</text><line x1="218.97" y1="305.2" x2="218.97" y2="308.2" stroke="#222222" stroke-width="1"/><text x="218.97" y="319.8" font-size="8.7" fill="#2e2e2e" text-anchor="middle">72</text><text x="247.24" y="279.9" font-size="8.7" fill="#2e2e2e" text-anchor="middle">0</text><text x="247.24" y="297.0" font-size="8.7" fill="#2e2e2e" text-anchor="middle">0</text><line x1="247.24" y1="305.2" x2="247.24" y2="308.2" stroke="#222222" stroke-width="1"/><text x="247.24" y="319.8" font-size="8.7" fill="#2e2e2e" text-anchor="middle">84</text><text x="118.3" y="334.6" font-size="10" fill="#2e2e2e" textLength="53" lengthAdjust="spacingAndGlyphs">Time (months)</text></g>
</svg>
</body></html>
